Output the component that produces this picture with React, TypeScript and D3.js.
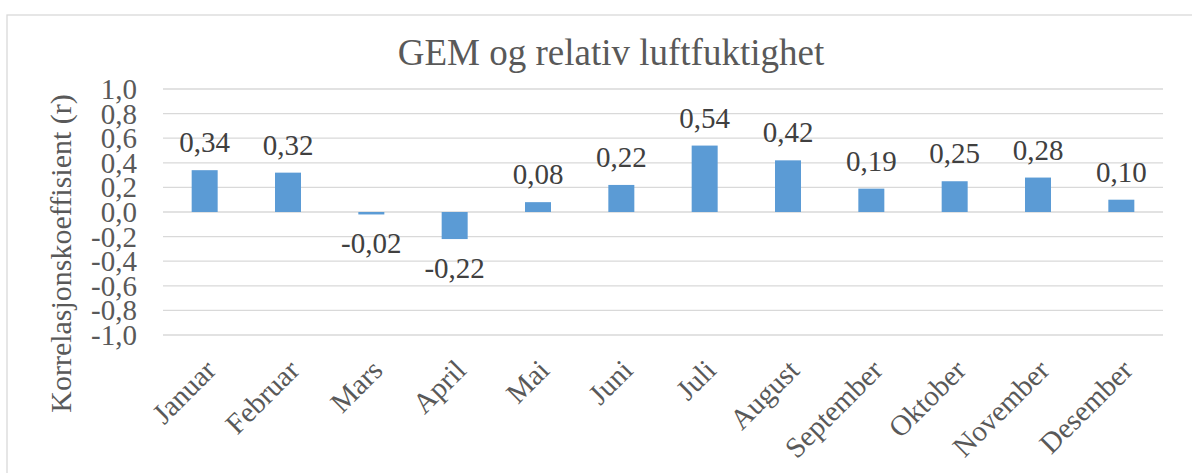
import React from "react";
import * as d3 from "d3";

const months = ["Januar", "Februar", "Mars", "April", "Mai", "Juni", "Juli", "August", "September", "Oktober", "November", "Desember"];
const values = [0.34, 0.32, -0.02, -0.22, 0.08, 0.22, 0.54, 0.42, 0.19, 0.25, 0.28, 0.1];
const yTicks = [1.0, 0.8, 0.6, 0.4, 0.2, 0.0, -0.2, -0.4, -0.6, -0.8, -1.0];
const title = "GEM og relativ luftfuktighet";
const yTitle = "Korrelasjonskoeffisient (r)";

const W = 1192;
const H = 473;
const plot = { left: 163, right: 1163, top: 89, bottom: 335 };
const font = "'Liberation Serif', 'Times New Roman', serif";
const textColor = "#595959";

export default function App() {
  const x = d3
    .scaleBand<string>()
    .domain(months)
    .range([plot.left, plot.right])
    .paddingInner(0.688)
    .paddingOuter(0.344);
  const y = d3.scaleLinear().domain([-1, 1]).range([plot.bottom, plot.top]);
  const fmt = (v: number, d: number) => d3.format(`.${d}f`)(v).replace(".", ",").replace("−", "-");
  const step = x.step();

  return (
    <svg
      width={W}
      height={H}
      style={{ position: "absolute", left: 0, top: 0, background: "#fff" }}
      fontFamily={font}
    >
      <rect x={7} y={15} width={W + 20} height={H + 20} fill="#fff" stroke="#d9d9d9" strokeWidth={1.3} />
      <text x={611} y={65} textAnchor="middle" fontSize={37} fill={textColor}>
        {title}
      </text>
      {yTicks.map((t) => (
        <g key={t}>
          <line x1={plot.left} x2={plot.right} y1={y(t)} y2={y(t)} stroke="#d9d9d9" strokeWidth={1.3} />
          <text x={137} y={y(t) + 10} textAnchor="end" fontSize={29} fill={textColor}>
            {fmt(t, 1)}
          </text>
        </g>
      ))}
      {values.map((v, i) => {
        const m = months[i];
        const y0 = y(0);
        const y1 = y(v);
        return (
          <g key={m}>
            <rect
              x={x(m)}
              y={Math.min(y0, y1)}
              width={x.bandwidth()}
              height={Math.abs(y1 - y0)}
              fill="#5b9bd5"
            />
            <text
              x={(x(m) as number) + x.bandwidth() / 2}
              y={v >= 0 ? y1 - 18 : y1 + 39}
              textAnchor="middle"
              fontSize={29}
              fill="#404040"
            >
              {fmt(v, 2)}
            </text>
          </g>
        );
      })}
      {months.map((m) => {
        const cx = (x(m) as number) + x.bandwidth() / 2;
        return (
          <text
            key={m}
            transform={`translate(${cx + 13},${372}) rotate(-45)`}
            textAnchor="end"
            fontSize={29}
            fill={textColor}
          >
            {m}
          </text>
        );
      })}
      <text
        transform={`translate(71,253.5) rotate(-90)`}
        textAnchor="middle"
        fontSize={30}
        fill={textColor}
      >
        {yTitle}
      </text>
    </svg>
  );
}
